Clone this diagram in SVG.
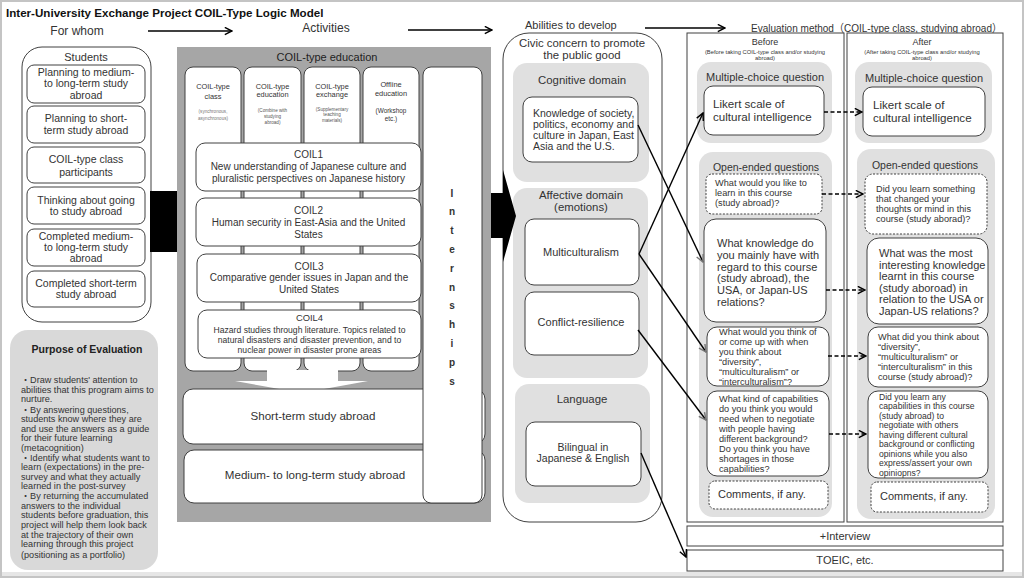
<svg xmlns="http://www.w3.org/2000/svg" width="1024" height="578" viewBox="0 0 1024 578">
<style>
text{font-family:"Liberation Sans","Noto Sans CJK JP",sans-serif;fill:#333}
.c{text-anchor:middle}
.box{fill:#fff;stroke:#404040;stroke-width:1}
.dbox{fill:#fff;stroke:#404040;stroke-width:1;stroke-dasharray:2 1.5}
.lg{fill:#e0e0e0}
.t12{font-size:12px}
.t11{font-size:11px}
.t105{font-size:10.5px}
.t10{font-size:10px}
.t9{font-size:9.2px}
.t85{font-size:8.6px}
.ln{stroke:#000;stroke-width:1.4;fill:none}
.dl{stroke:#000;stroke-width:1.5;fill:none;stroke-dasharray:4 2.5}
</style>
<defs>
<marker id="ah" viewBox="0 0 10 10" refX="9" refY="5" markerWidth="9" markerHeight="9" markerUnits="userSpaceOnUse" orient="auto"><path d="M1,1 L9,5 L1,9" fill="none" stroke="#000" stroke-width="1.6"/></marker>
<marker id="ahg" viewBox="0 0 10 10" refX="9" refY="5" markerWidth="9" markerHeight="9" markerUnits="userSpaceOnUse" orient="auto"><path d="M1,1 L9,5 L1,9" fill="none" stroke="#777" stroke-width="1.6"/></marker>
</defs>
<rect x="0" y="0" width="1024" height="578" fill="#fff"/>
<rect x="0" y="572" width="1024" height="6" fill="#e6e6e6"/>
<rect x="1" y="1" width="1022" height="576" fill="none" stroke="#c4c4c4" stroke-width="2"/>

<g id="header">
<text x="6" y="17" style="font-size:11.6px;font-weight:bold;fill:#111">Inter-University Exchange Project COIL-Type Logic Model</text>
<text x="77" y="35" class="c t12">For whom</text>
<text x="326" y="32" class="c t12">Activities</text>
<text x="525" y="29" class="t11">Abilities to develop</text>
<text x="751" y="32" style="font-size:10.8px" textLength="251" lengthAdjust="spacingAndGlyphs">Evaluation method（COIL-type class, studying abroad）</text>
</g>

<g id="students">
<rect x="22" y="47" width="129" height="275" rx="20" class="box"/>
<text x="86" y="61" class="c t11">Students</text>
<rect x="27" y="65" width="118" height="38" rx="7" class="box"/>
<text x="86" y="76" class="c t105">Planning to medium-</text>
<text x="86" y="87" class="c t105">to long-term study</text>
<text x="86" y="98.5" class="c t105">abroad</text>
<rect x="27" y="106" width="118" height="37" rx="7" class="box"/>
<text x="86" y="122" class="c t105">Planning to short-</text>
<text x="86" y="134" class="c t105">term study abroad</text>
<rect x="27" y="147" width="118" height="36" rx="7" class="box"/>
<text x="86" y="163" class="c t105">COIL-type class</text>
<text x="86" y="176" class="c t105">participants</text>
<rect x="27" y="187" width="118" height="37" rx="7" class="box"/>
<text x="86" y="204" class="c t105">Thinking about going</text>
<text x="86" y="215" class="c t105">to study abroad</text>
<rect x="27" y="229" width="118" height="37" rx="7" class="box"/>
<text x="86" y="240" class="c t105">Completed medium-</text>
<text x="86" y="251" class="c t105">to long-term study</text>
<text x="86" y="262" class="c t105">abroad</text>
<rect x="27" y="271" width="118" height="36" rx="7" class="box"/>
<text x="86" y="287" class="c t105">Completed short-term</text>
<text x="86" y="298" class="c t105">study abroad</text>
</g>

<g id="purpose">
<rect x="10" y="330" width="148" height="240" rx="18" fill="#d9d9d9"/>
<text x="87" y="352.5" class="c" style="font-size:10.5px;font-weight:bold;fill:#222">Purpose of Evaluation</text>
<g style="font-size:9.1px">
<text x="21" y="382.5">・Draw students' attention to</text>
<text x="21" y="392.5">abilities that this program aims to</text>
<text x="21" y="402">nurture.</text>
<text x="21" y="412.5">・By answering questions,</text>
<text x="21" y="422">students know where they are</text>
<text x="21" y="431.5">and use the answers as a guide</text>
<text x="21" y="441">for their future learning</text>
<text x="21" y="451">(metacognition)</text>
<text x="21" y="460.5">・Identify what students want to</text>
<text x="21" y="470">learn (expectations) in the pre-</text>
<text x="21" y="479.5">survey and what they actually</text>
<text x="21" y="489">learned in the post-survey</text>
<text x="21" y="499">・By returning the accumulated</text>
<text x="21" y="509">answers to the individual</text>
<text x="21" y="518">students before graduation, this</text>
<text x="21" y="528">project will help them look back</text>
<text x="21" y="537.5">at the trajectory of their own</text>
<text x="21" y="547">learning through this project</text>
<text x="21" y="557.5">(positioning as a portfolio)</text>
</g>
</g>

<g id="arrow-left"><rect x="150" y="191" width="27" height="61" fill="#000"/></g>

<g id="coil-education">
<rect x="177" y="47" width="314" height="475" fill="#a6a6a6"/>
<text x="327" y="61" class="c t11" style="fill:#222">COIL-type education</text>
<rect x="185" y="67" width="56" height="304" rx="8" class="box"/>
<rect x="244" y="67" width="57" height="304" rx="8" class="box"/>
<rect x="304" y="67" width="56" height="304" rx="8" class="box"/>
<rect x="363" y="67" width="56" height="304" rx="8" class="box"/>
<g style="font-size:7.4px">
<text x="213" y="88.5" class="c">COIL-type</text>
<text x="213" y="98.5" class="c">class</text>
<text x="272.5" y="88.5" class="c">COIL-type</text>
<text x="272.5" y="97" class="c">education</text>
<text x="332" y="88.5" class="c">COIL-type</text>
<text x="332" y="97" class="c">exchange</text>
<text x="391" y="86.5" class="c">Offline</text>
<text x="391" y="95.5" class="c">education</text>
</g>
<g style="font-size:4.6px">
<text x="213" y="112.5" class="c" style="fill:#777">(synchronous,</text>
<text x="213" y="119.5" class="c" style="fill:#777">asynchronous)</text>
<text x="272.5" y="111.5" class="c" style="fill:#555">(Combine with</text>
<text x="272.5" y="117.5" class="c" style="fill:#555">studying</text>
<text x="272.5" y="123.5" class="c" style="fill:#555">abroad)</text>
<text x="332" y="110.5" class="c" style="fill:#555">(Supplementary</text>
<text x="332" y="116" class="c" style="fill:#555">teaching</text>
<text x="332" y="122" class="c" style="fill:#555">materials)</text>
</g>
<text x="391" y="112.5" class="c" style="font-size:6.4px">(Workshop</text>
<text x="391" y="120.5" class="c" style="font-size:6.4px">etc.)</text>
</g>

<g id="coil1">
<rect x="196" y="143" width="225" height="48" rx="9" class="box"/>
<text x="308.5" y="158" class="c t10">COIL1</text>
<text x="308.5" y="170" class="c t10">New understanding of Japanese culture and</text>
<text x="308.5" y="182" class="c t10">pluralistic perspectives on Japanese history</text>
</g>
<g id="coil2">
<rect x="196" y="198" width="225" height="48" rx="9" class="box"/>
<text x="308.5" y="214" class="c t10">COIL2</text>
<text x="308.5" y="226" class="c t10">Human security in East-Asia and the United</text>
<text x="308.5" y="238" class="c t10">States</text>
</g>
<g id="coil3">
<rect x="197" y="254" width="224" height="48" rx="9" class="box"/>
<text x="309" y="269.5" class="c t10">COIL3</text>
<text x="309" y="281" class="c t10">Comparative gender issues in Japan and the</text>
<text x="309" y="293" class="c t10">United States</text>
</g>
<g id="coil4">
<rect x="198" y="310" width="223" height="48" rx="9" class="box"/>
<text x="309.5" y="321" class="c" style="font-size:9.4px">COIL4</text>
<text x="309.5" y="332.5" class="c t85">Hazard studies through literature. Topics related to</text>
<text x="309.5" y="342.5" class="c t85">natural disasters and disaster prevention, and to</text>
<text x="309.5" y="353" class="c t85">nuclear power in disaster prone areas</text>
</g>
<polygon points="267,370 338,370 338,381 368,381 302,393 235,381 267,381" fill="#fff"/>
<g id="short-term">
<rect x="183" y="389" width="302" height="55" rx="10" class="box"/>
<text x="313" y="420" class="c" style="font-size:11.6px">Short-term study abroad</text>
</g>
<g id="medium-term">
<rect x="184" y="450" width="301" height="53" rx="10" class="box"/>
<text x="315" y="479" class="c" style="font-size:11.6px">Medium- to long-term study abroad</text>
</g>
<g id="internships">
<rect x="423" y="67" width="59" height="436" rx="8" class="box"/>
<g style="font-size:10px;font-weight:bold;fill:#222">
<text x="452" y="196.5" class="c">I</text>
<text x="452" y="215.3" class="c">n</text>
<text x="452" y="234.1" class="c">t</text>
<text x="452" y="252.9" class="c">e</text>
<text x="452" y="271.7" class="c">r</text>
<text x="452" y="290.5" class="c">n</text>
<text x="452" y="309.3" class="c">s</text>
<text x="452" y="328.1" class="c">h</text>
<text x="452" y="346.9" class="c">i</text>
<text x="452" y="365.7" class="c">p</text>
<text x="452" y="384.5" class="c">s</text>
</g>
</g>

<g id="abilities">
<rect x="503" y="33" width="159" height="489" rx="26" class="box"/>
<text x="582" y="47" class="c" style="font-size:11.4px">Civic concern to promote</text>
<text x="582" y="59" class="c" style="font-size:11.4px">the public good</text>
</g>
<g id="cognitive">
<rect x="513" y="63" width="136" height="119" rx="14" class="lg"/>
<text x="582" y="84" class="c" style="font-size:11.4px">Cognitive domain</text>
<rect x="523" y="97" width="115" height="65" rx="9" class="box"/>
<text x="533" y="117" class="t105">Knowledge of society,</text>
<text x="533" y="128" class="t105">politics, economy and</text>
<text x="533" y="139" class="t105">culture in Japan, East</text>
<text x="533" y="150" class="t105">Asia and the U.S.</text>
</g>
<g id="affective">
<rect x="513" y="188" width="135" height="190" rx="14" class="lg"/>
<text x="581" y="199" class="c" style="font-size:11.4px">Affective domain</text>
<text x="581" y="211" class="c" style="font-size:11.4px">(emotions)</text>
<rect x="525" y="219" width="114" height="66" rx="9" class="box"/>
<text x="581" y="256" class="c" style="font-size:11px">Multiculturalism</text>
<rect x="525" y="292" width="114" height="63" rx="9" class="box"/>
<text x="581" y="326" class="c" style="font-size:11px">Conflict-resilience</text>
</g>
<g id="language">
<rect x="515" y="384" width="135" height="119" rx="14" class="lg"/>
<text x="582" y="403" class="c" style="font-size:11.4px">Language</text>
<rect x="526" y="422" width="115" height="64" rx="9" class="box"/>
<text x="583" y="451" class="c t105">Bilingual in</text>
<text x="583" y="462" class="c t105">Japanese &amp; English</text>
</g>
<g id="arrow-right"><polygon points="491,193 503,193 503,170 516,216 503,262 503,238 491,238" fill="#000"/></g>

<g id="before">
<rect x="687" y="33" width="157" height="489" class="box"/>
<text x="765" y="45" class="c" style="font-size:9px">Before</text>
<text x="765" y="54" class="c" style="font-size:5.8px">(Before taking COIL-type class and/or studying</text>
<text x="765" y="60" class="c" style="font-size:5.8px">abroad)</text>
<rect x="697" y="62" width="135" height="81" rx="14" class="lg"/>
<text x="765" y="81" class="c t11">Multiple-choice question</text>
<rect x="704" y="86" width="120" height="49" rx="9" class="box"/>
<text x="713" y="108" style="font-size:11.6px">Likert scale of</text>
<text x="713" y="121" style="font-size:11.6px">cultural intelligence</text>
<rect x="699" y="152" width="133" height="365" rx="14" class="lg"/>
<text x="766" y="171" class="c t105">Open-ended questions</text>
</g>
<g id="bq1">
<rect x="706" y="174" width="116" height="40" rx="6" class="dbox"/>
<text x="715" y="186" class="t9">What would you like to</text>
<text x="715" y="196" class="t9">learn in this course</text>
<text x="715" y="206" class="t9">(study abroad)?</text>
</g>
<g id="bq2">
<rect x="704" y="219" width="122" height="103" rx="12" class="box"/>
<text x="717" y="247" class="t11">What knowledge do</text>
<text x="717" y="259" class="t11">you mainly have with</text>
<text x="717" y="270.5" class="t11">regard to this course</text>
<text x="717" y="282" class="t11">(study abroad), the</text>
<text x="717" y="294" class="t11">USA, or Japan-US</text>
<text x="717" y="305.5" class="t11">relations?</text>
</g>
<g id="bq3">
<rect x="707" y="327" width="122" height="59" rx="10" class="box"/>
<text x="719" y="334.5" class="t9">What would you think of</text>
<text x="719" y="344.5" class="t9">or come up with when</text>
<text x="719" y="354.5" class="t9">you think about</text>
<text x="719" y="364.5" class="t9">“diversity”,</text>
<text x="719" y="374.5" class="t9">“multiculturalism” or</text>
<text x="719" y="384.5" class="t9">“interculturalism”?</text>
</g>
<g id="bq4">
<rect x="707" y="391" width="122" height="85" rx="10" class="box"/>
<text x="719" y="401.5" class="t9">What kind of capabilities</text>
<text x="719" y="411.5" class="t9">do you think you would</text>
<text x="719" y="421.5" class="t9">need when to negotiate</text>
<text x="719" y="431.5" class="t9">with people having</text>
<text x="719" y="441.5" class="t9">different background?</text>
<text x="719" y="451.5" class="t9">Do you think you have</text>
<text x="719" y="461.5" class="t9">shortages in those</text>
<text x="719" y="471.5" class="t9">capabilities?</text>
</g>
<g id="bcomments">
<rect x="709" y="481" width="119" height="28" rx="6" class="dbox"/>
<text x="718" y="498" class="t11">Comments, if any.</text>
</g>

<g id="after">
<rect x="847" y="33" width="156" height="489" class="box"/>
<text x="922" y="45" class="c" style="font-size:9px">After</text>
<text x="922" y="54" class="c" style="font-size:5.8px">(After taking COIL-type class and/or studying</text>
<text x="922" y="60" class="c" style="font-size:5.8px">abroad)</text>
<rect x="855" y="62" width="137" height="81" rx="14" class="lg"/>
<text x="924" y="82" class="c t11">Multiple-choice question</text>
<rect x="863" y="87" width="122" height="49" rx="9" class="box"/>
<text x="873" y="109" style="font-size:11.6px">Likert scale of</text>
<text x="873" y="122" style="font-size:11.6px">cultural intelligence</text>
<rect x="857" y="149" width="138" height="370" rx="14" class="lg"/>
<text x="925" y="169" class="c t105">Open-ended questions</text>
</g>
<g id="aq1">
<rect x="865" y="174" width="122" height="60" rx="8" class="dbox"/>
<text x="876" y="192" class="t9">Did you learn something</text>
<text x="876" y="202" class="t9">that changed your</text>
<text x="876" y="212" class="t9">thoughts or mind in this</text>
<text x="876" y="222" class="t9">course (study aborad)?</text>
</g>
<g id="aq2">
<rect x="867" y="238" width="121" height="86" rx="12" class="box"/>
<text x="879" y="257" class="t11">What was the most</text>
<text x="879" y="268.5" class="t11">interesting knowledge</text>
<text x="879" y="280" class="t11">learnt in this course</text>
<text x="879" y="291.5" class="t11">(study aboroad) in</text>
<text x="879" y="303" class="t11">relation to the USA or</text>
<text x="879" y="314.5" class="t11">Japan-US relations?</text>
</g>
<g id="aq3">
<rect x="868" y="327" width="120" height="60" rx="10" class="box"/>
<text x="878" y="339.5" class="t9">What did you think about</text>
<text x="878" y="349.5" class="t9">“diversity”,</text>
<text x="878" y="359.5" class="t9">“multiculturalism” or</text>
<text x="878" y="369.5" class="t9">“interculturalism” in this</text>
<text x="878" y="379.5" class="t9">course (study abroad)?</text>
</g>
<g id="aq4">
<rect x="868" y="391" width="120" height="87" rx="10" class="box"/>
<g class="t85">
<text x="879" y="399.5">Did you learn any</text>
<text x="879" y="409">capabilities in this course</text>
<text x="879" y="418.5">(study abroad) to</text>
<text x="879" y="428">negotiate with others</text>
<text x="879" y="437.5">having different cultural</text>
<text x="879" y="447">background or conflicting</text>
<text x="879" y="456.5">opinions while you also</text>
<text x="879" y="466">express/assert your own</text>
<text x="879" y="475.5">opiniopns?</text>
</g>
</g>
<g id="acomments">
<rect x="871" y="482" width="117" height="30" rx="6" class="dbox"/>
<text x="880" y="500" class="t11">Comments, if any.</text>
</g>
<g id="interview">
<rect x="687" y="526" width="316" height="20" class="box"/>
<text x="845" y="540" class="c t11">+Interview</text>
</g>
<g id="toeic">
<rect x="687" y="550" width="316" height="21" class="box"/>
<text x="845" y="564" class="c t11">TOEIC, etc.</text>
</g>

<g id="connectors">
<line x1="148" y1="31" x2="232" y2="31" class="ln" marker-end="url(#ah)"/>
<line x1="408" y1="30" x2="492" y2="30" class="ln" marker-end="url(#ah)"/>
<line x1="645" y1="28" x2="725" y2="28" class="ln" marker-end="url(#ah)"/>
<line x1="638" y1="125" x2="703" y2="262" class="ln" marker-end="url(#ahg)"/>
<line x1="639" y1="254" x2="703" y2="113" class="ln" marker-end="url(#ah)"/>
<line x1="639" y1="254" x2="706" y2="352" class="ln" marker-end="url(#ahg)"/>
<line x1="638" y1="330" x2="706" y2="420" class="ln" marker-end="url(#ahg)"/>
<line x1="641" y1="453" x2="686" y2="557" class="ln" marker-end="url(#ah)"/>
<line x1="824" y1="112" x2="862" y2="112" class="dl" marker-end="url(#ah)"/>
<line x1="822" y1="194" x2="863" y2="194" class="dl" marker-end="url(#ah)"/>
<line x1="826" y1="290" x2="865" y2="290" class="dl" marker-end="url(#ah)"/>
<line x1="828" y1="356" x2="866" y2="356" class="dl" marker-end="url(#ah)"/>
<line x1="829" y1="434" x2="866" y2="434" class="dl" marker-end="url(#ah)"/>
</g>
</svg>
